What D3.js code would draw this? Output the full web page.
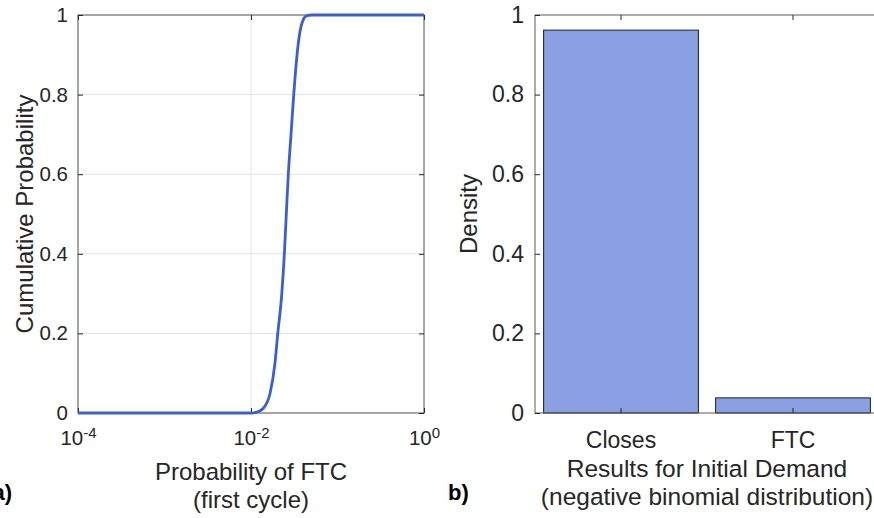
<!DOCTYPE html>
<html>
<head>
<meta charset="utf-8">
<script src="https://cdn.jsdelivr.net/npm/d3@7"></script>
<style>
  html, body { margin: 0; padding: 0; background: #fff; }
  svg { display: block; }
  text { font-family: "Liberation Sans", Arial, Helvetica, sans-serif; fill: #262626; }
</style>
</head>
<body>
<svg id="chart" width="874" height="518"></svg>
<script>
// ---- Data ----
// Panel a: cumulative distribution of probability of FTC (first cycle)
const ftcProb = [0.0001, 0.0102, 0.0116, 0.0139, 0.0166, 0.0189, 0.0204, 0.0227, 0.0243, 0.0256, 0.0270, 0.0288, 0.0312, 0.0337, 0.0368, 0.0399, 0.0440, 0.0500, 1];
const cumProb = [0,      0,      0.002,  0.012,  0.049,  0.124,  0.2,    0.3,    0.4,    0.5,    0.6,    0.69,   0.8,    0.89,   0.958,  0.987,  0.998,  1,      1];
const xTicksA = [1e-4, 1e-2, 1];
const yTicks = [0, 0.2, 0.4, 0.6, 0.8, 1];

// Panel b: results for initial demand
const categories = ["Closes", "FTC"];
const density = [0.962, 0.038];

// ---- Setup ----
const svg = d3.select("#chart");
const yTop = 15, yBottom = 413;

// ================= Panel a =================
const ax = d3.scaleLog().domain([1e-4, 1]).range([78, 424]);
const ay = d3.scaleLinear().domain([0, 1]).range([yBottom, yTop]);
const ga = svg.append("g");

// grid
ga.append("g").selectAll("line").data(xTicksA).join("line")
  .attr("x1", d => ax(d)).attr("x2", d => ax(d))
  .attr("y1", yTop).attr("y2", yBottom)
  .attr("stroke", "#e3e3e3").attr("stroke-width", 1);
ga.append("g").selectAll("line").data(yTicks).join("line")
  .attr("x1", ax.range()[0]).attr("x2", ax.range()[1])
  .attr("y1", d => ay(d)).attr("y2", d => ay(d))
  .attr("stroke", "#e3e3e3").attr("stroke-width", 1);

// box
ga.append("rect")
  .attr("x", ax.range()[0]).attr("y", yTop)
  .attr("width", ax.range()[1] - ax.range()[0]).attr("height", yBottom - yTop)
  .attr("fill", "none").attr("stroke", "#5a5a5a").attr("stroke-width", 1);

// axes
const aLeft = ga.append("g").attr("transform", `translate(${ax.range()[0]},0)`)
  .call(d3.axisLeft(ay).tickValues(yTicks).tickFormat(d3.format("~g")).tickSizeInner(-5).tickSizeOuter(0).tickPadding(10));
const aRight = ga.append("g").attr("transform", `translate(${ax.range()[1]},0)`)
  .call(d3.axisRight(ay).tickValues(yTicks).tickFormat("").tickSizeInner(-5).tickSizeOuter(0));
const aBottom = ga.append("g").attr("transform", `translate(0,${yBottom})`)
  .call(d3.axisBottom(ax).tickValues(xTicksA).tickSizeInner(-5).tickSizeOuter(0).tickPadding(17));
const aTop = ga.append("g").attr("transform", `translate(0,${yTop})`)
  .call(d3.axisTop(ax).tickValues(xTicksA).tickFormat("").tickSizeInner(-5).tickSizeOuter(0));
[aLeft, aRight, aBottom, aTop].forEach(g => {
  g.select(".domain").remove();
  g.selectAll(".tick line").attr("stroke", "#262626");
  g.selectAll(".tick text").attr("font-size", "20.5px").attr("fill", "#262626")
    .attr("font-family", "Liberation Sans, Arial, sans-serif");
});
aBottom.selectAll(".tick text").text(null).each(function(d) {
  const t = d3.select(this);
  t.append("tspan").text("10");
  t.append("tspan").attr("dy", "-0.45em").attr("font-size", "15px").text(Math.round(Math.log10(d)));
});

// line
const line = d3.line().x((d, i) => ax(ftcProb[i])).y(d => ay(d)).curve(d3.curveMonotoneX);
ga.append("path").datum(cumProb)
  .attr("d", line)
  .attr("fill", "none").attr("stroke", "#3a5ed8").attr("stroke-width", 2.8)
  .attr("stroke-linejoin", "round");

// labels
ga.append("text").attr("transform", `translate(33,${(yTop + yBottom) / 2}) rotate(-90)`)
  .attr("text-anchor", "middle").attr("font-size", "24px").text("Cumulative Probability");
const axMid = (ax.range()[0] + ax.range()[1]) / 2;
ga.append("text").attr("x", axMid).attr("y", 480).attr("text-anchor", "middle")
  .attr("font-size", "24px").text("Probability of FTC");
ga.append("text").attr("x", axMid).attr("y", 508).attr("text-anchor", "middle")
  .attr("font-size", "24px").text("(first cycle)");
ga.append("text").attr("x", 12).attr("y", 500).attr("text-anchor", "end")
  .attr("font-size", "22px").attr("font-weight", "bold").style("fill", "#000").text("a)");

// ================= Panel b =================
const bx = d3.scaleBand().domain(categories).range([535, 879]).paddingInner(0.1).paddingOuter(0.05);
const by = d3.scaleLinear().domain([0, 1]).range([yBottom, yTop]);
const gb = svg.append("g");

gb.append("g").selectAll("rect").data(categories).join("rect")
  .attr("x", d => bx(d)).attr("width", bx.bandwidth())
  .attr("y", (d, i) => by(density[i])).attr("height", (d, i) => by(0) - by(density[i]))
  .attr("fill", "#8aa0e2").attr("stroke", "#1c1c2c").attr("stroke-width", 1);

gb.append("rect")
  .attr("x", bx.range()[0]).attr("y", yTop)
  .attr("width", bx.range()[1] - bx.range()[0]).attr("height", yBottom - yTop)
  .attr("fill", "none").attr("stroke", "#5a5a5a").attr("stroke-width", 1);

const bLeft = gb.append("g").attr("transform", `translate(${bx.range()[0]},0)`)
  .call(d3.axisLeft(by).tickValues(yTicks).tickFormat(d3.format("~g")).tickSizeInner(-5).tickSizeOuter(0).tickPadding(11));
const bBottom = gb.append("g").attr("transform", `translate(0,${yBottom})`)
  .call(d3.axisBottom(bx).tickSizeInner(-5).tickSizeOuter(0).tickPadding(19));
const bTop = gb.append("g").attr("transform", `translate(0,${yTop})`)
  .call(d3.axisTop(bx).tickFormat("").tickSizeInner(-5).tickSizeOuter(0));
[bLeft, bBottom, bTop].forEach(g => {
  g.select(".domain").remove();
  g.selectAll(".tick line").attr("stroke", "#262626");
  g.selectAll(".tick text").attr("font-size", "23px").attr("fill", "#262626")
    .attr("font-family", "Liberation Sans, Arial, sans-serif");
});

const bxMid = (bx.range()[0] + bx.range()[1]) / 2;
gb.append("text").attr("transform", `translate(477,${(yTop + yBottom) / 2}) rotate(-90)`)
  .attr("text-anchor", "middle").attr("font-size", "24px").text("Density");
gb.append("text").attr("x", bxMid).attr("y", 477)
  .attr("text-anchor", "middle").attr("font-size", "24.5px").text("Results for Initial Demand");
gb.append("text").attr("x", bxMid).attr("y", 505)
  .attr("text-anchor", "middle").attr("font-size", "24.5px").text("(negative binomial distribution)");
gb.append("text").attr("x", 448).attr("y", 500)
  .attr("font-size", "22px").attr("font-weight", "bold").style("fill", "#000").text("b)");
</script>
</body>
</html>
